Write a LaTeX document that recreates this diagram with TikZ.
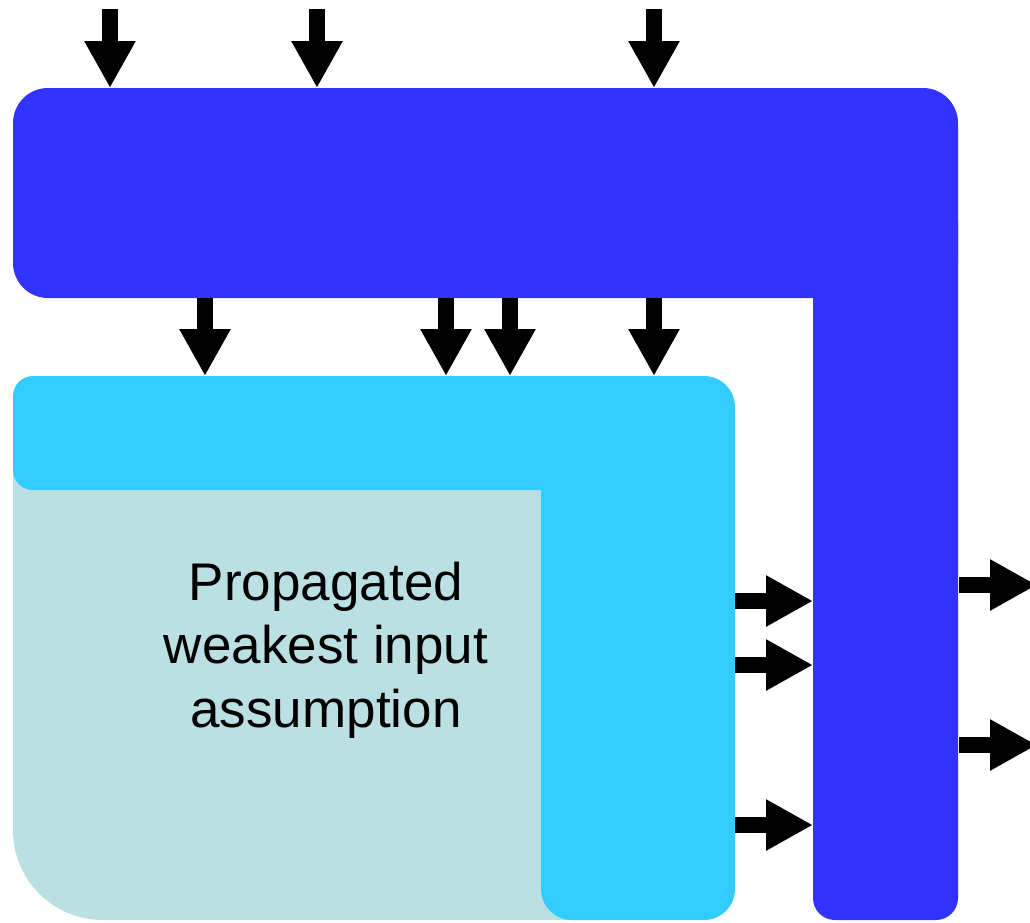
\documentclass[tikz,border=0pt]{standalone}
\usepackage{fontspec}
\setmainfont{Liberation Sans}
\usetikzlibrary{arrows.meta}
\definecolor{outerblue}{HTML}{3333FF}
\definecolor{innercyan}{HTML}{33CCFF}
\definecolor{corefill}{HTML}{BBE0E3}
\begin{document}
\begin{tikzpicture}[x=1pt,y=-1pt,
  blockarrow/.style={line width=16pt, black, -{Triangle[width=48pt,length=47pt]}},
  label/.style={font=\fontsize{53}{63.5}\selectfont, align=center, inner sep=0pt}]
\clip (0,0) rectangle (1030,922);
\fill[white] (0,0) rectangle (1030,922);

% outer L-shaped block
\fill[outerblue, rounded corners=35] (13,88) rectangle (958,298);
\fill[outerblue, rounded corners=22] (813,200) rectangle (958,920);

% inner region (pale)
\fill[corefill] (600,440) -- (13,440) -- (13,830)
  .. controls (13,880) and (53,920) .. (103,920) -- (600,920) -- cycle;

% inner L-shaped block
\fill[innercyan, rounded corners=20] (13,376) rectangle (600,490);
\fill[innercyan, rounded corners=31] (541,376) rectangle (735,920);

\node[label] (core) at (326,650) {Propagated\\weakest input\\assumption};

% inputs to the outer block
\foreach \i/\x in {1/110, 2/317, 3/654} {
  \coordinate (in\i) at (\x,9);
  \coordinate (top\i) at (\x,88);
  \draw[blockarrow] (in\i) -- (top\i);
}
% outer block to inner block
\foreach \i/\x in {1/205, 2/446, 3/510, 4/654} {
  \coordinate (ob\i) at (\x,298);
  \coordinate (ib\i) at (\x,376);
  \draw[blockarrow] (ob\i) -- (ib\i);
}
% inner block back to outer block
\foreach \i/\y in {1/601, 2/665, 3/825} {
  \coordinate (ir\i) at (735,\y);
  \coordinate (or\i) at (813,\y);
  \draw[blockarrow] (ir\i) -- (or\i);
}
% outputs of the outer block
\foreach \i/\y in {1/585, 2/745} {
  \coordinate (os\i) at (959,\y);
  \coordinate (out\i) at (1037,\y);
  \draw[blockarrow] (os\i) -- (out\i);
}
\end{tikzpicture}
\end{document}
